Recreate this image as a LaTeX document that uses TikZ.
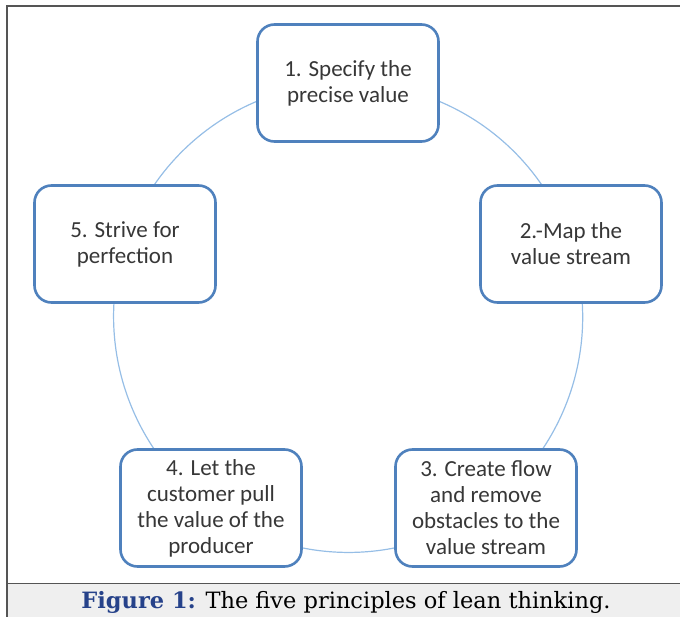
\documentclass[tikz,border=0pt]{standalone}
\usepackage{fontspec}
\usepackage{xcolor}
\usepackage{tikz}
\usetikzlibrary{backgrounds}
\newfontfamily\boxfont{Carlito}
\newfontfamily\capfont{DejaVu Serif}
\definecolor{boxblue}{RGB}{79,129,189}
\definecolor{ringblue}{RGB}{150,190,230}
\definecolor{txtgrey}{RGB}{55,55,55}
\definecolor{capblue}{RGB}{38,66,138}
\definecolor{capgrey}{RGB}{239,239,239}
\definecolor{framegrey}{RGB}{85,85,85}

\begin{document}
\begin{tikzpicture}[x=1pt,y=-1pt,
  stagebox/.style={rectangle,rounded corners=17pt,draw=boxblue,line width=2.6pt,fill=white,
    minimum width=181pt,minimum height=117pt,inner sep=0pt,align=center,text=txtgrey,
    font=\boxfont\fontsize{23}{26}\selectfont},
  ring/.style={draw=ringblue,line width=1.2pt,bend left=36,looseness=0.94}]
\useasboundingbox (0,0) rectangle (680,617);
\fill[capgrey] (7,584) rectangle (680,617);
\draw[framegrey,line width=1.6pt] (7,617) -- (7,6) -- (680,6);
\draw[framegrey,line width=1.4pt] (7,583.5) -- (680,583.5);
\node[stagebox] (p1) at (348,83) {1. Specify the\\precise value};
\node[stagebox] (p2) at (571,244) {2.-Map the\\value stream};
\node[stagebox] (p3) at (486,508) {3. Create flow\\and remove\\obstacles to the\\value stream};
\node[stagebox] (p4) at (211,508) {4. Let the\\customer pull\\the value of the\\producer};
\node[stagebox] (p5) at (125,244) {5. Strive for\\perfection};
\begin{scope}[on background layer]
\draw[ring] (p1.center) to (p2.center);
\draw[ring] (p2.center) to (p3.center);
\draw[ring] (p3.center) to (p4.center);
\draw[ring] (p4.center) to (p5.center);
\draw[ring] (p5.center) to (p1.center);
\end{scope}
\node[font=\capfont\fontsize{22.5}{26}\selectfont] (cap) at (346,602) {\textcolor{capblue}{\textbf{Figure 1:}} The five principles of lean thinking.};
\end{tikzpicture}
\end{document}
